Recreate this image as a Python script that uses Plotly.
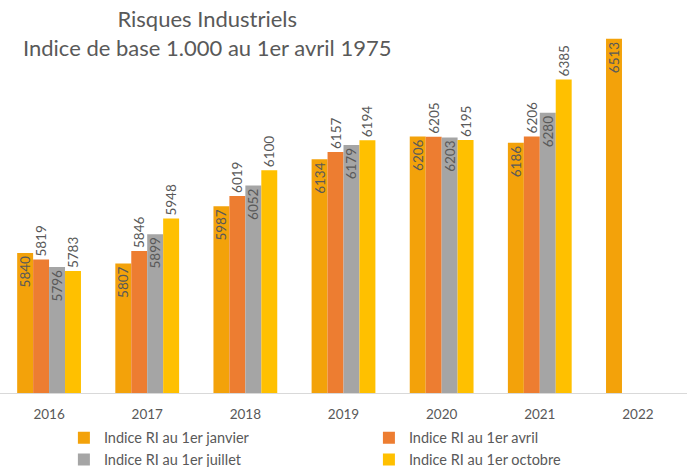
import plotly.graph_objects as go

years = ["2016", "2017", "2018", "2019", "2020", "2021", "2022"]
jan = [5840, 5807, 5987, 6134, 6206, 6186, 6513]
avr = [5819, 5846, 6019, 6157, 6205, 6206, None]
jui = [5796, 5899, 6052, 6179, 6203, 6280, None]
octo = [5783, 5948, 6100, 6194, 6195, 6385, None]

names = ["Indice RI au 1er janvier", "Indice RI au 1er avril",
         "Indice RI au 1er juillet", "Indice RI au 1er octobre"]
colors = ["#F3A20A", "#ED7D31", "#A5A5A5", "#FFC000"]
positions = ["inside", "outside", "inside", "outside"]
legends = ["legend", "legend2", "legend", "legend2"]
series = [jan, avr, jui, octo]

FONT = "Lato"
TXT = "#595959"

fig = go.Figure()
for name, vals, col, pos, lg in zip(names, series, colors, positions, legends):
    fig.add_trace(go.Bar(
        x=years, y=vals, name=name, marker=dict(color=col, line=dict(width=0)),
        text=[("" if v is None else str(v)) for v in vals],
        textposition=pos, textangle=-90, insidetextanchor="end",
        textfont=dict(family=FONT, size=13.5, color=TXT),
        cliponaxis=False, constraintext="none", legend=lg,
    ))

leg_common = dict(orientation="v", yanchor="top", y=-0.0755, xanchor="left",
                  font=dict(family=FONT, size=14.5, color=TXT),
                  itemwidth=30, tracegroupgap=0, traceorder="normal",
                  bgcolor="rgba(0,0,0,0)")

fig.update_layout(
    width=691, height=467,
    margin=dict(l=0, r=4, t=11, b=74, autoexpand=False),
    paper_bgcolor="white", plot_bgcolor="white",
    barmode="group", bargap=0.35, bargroupgap=0,
    uniformtext=dict(minsize=13.5, mode="show"),
    font=dict(family=FONT, color=TXT),
    xaxis=dict(type="category", range=[-0.5, 6.5], showline=True,
               linecolor="#D9D9D9", linewidth=1, ticks="", ticklabelstandoff=9,
               tickfont=dict(family=FONT, size=13.5, color=TXT), showgrid=False),
    yaxis=dict(range=[5400, 6600], visible=False, showgrid=False),
    showlegend=True,
    legend=dict(x=0.093, **leg_common),
    legend2=dict(x=0.537, **leg_common),
    annotations=[dict(
        text="Risques Industriels<br>Indice de base 1.000 au 1er avril 1975",
        xref="paper", yref="paper", x=0.302, y=1.021, xanchor="center", yanchor="top",
        showarrow=False, font=dict(family=FONT, size=22, color=TXT), align="center",
    )],
)

fig.write_html("out.html", config={"displayModeBar": False},
               post_script="document.body.style.margin='0';document.body.style.overflow='hidden';")
